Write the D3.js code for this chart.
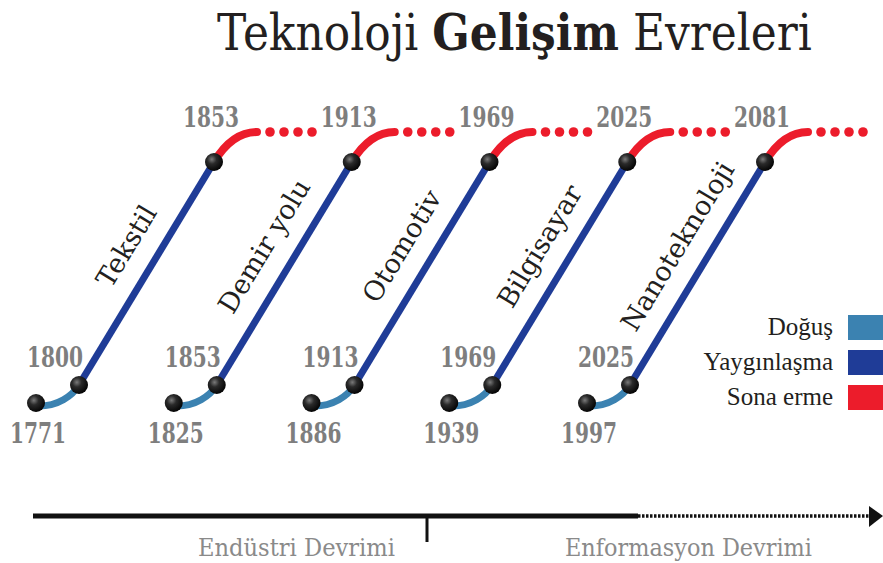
<!DOCTYPE html>
<html>
<head>
<meta charset="utf-8">
<script src="https://cdn.jsdelivr.net/npm/d3@7"></script>
<style>
    body { margin: 0; background: #fff; }
    svg { display: block; }
</style>
</head>
<body>
<svg width="883" height="563"></svg>
<script>
"use strict"

const technologies = ["Tekstil", "Demir yolu", "Otomotiv", "Bilgisayar", "Nanoteknoloji"]
const birthYears = [1771, 1825, 1886, 1939, 1997]
const spreadYears = [1800, 1853, 1913, 1969, 2025]
const declineYears = [1853, 1913, 1969, 2025, 2081]
const phases = ["Doğuş", "Yaygınlaşma", "Sona erme"]
const phaseColors = ["#3b82b1", "#1f3c97", "#ec1c2b"]
const eras = ["Endüstri Devrimi", "Enformasyon Devrimi"]
const titleParts = ["Teknoloji ", "Gelişim", " Evreleri"]

const YEAR_COLOR = "#7e7e7e"
const SERIF = "'DejaVu Serif', serif"

const svg = d3.select("svg")

// stage position along the row, then four anchors inside each stage
const x = d3.scalePoint().domain(technologies).range([36, 587])
const anchors = ["birth", "spread", "peak", "fade"]
const dx = d3.scaleOrdinal().domain(anchors).range([0, 43, 178, 221])
const y = d3.scaleOrdinal().domain(anchors).range([403, 385, 162, 132])

const stages = technologies.map((name, i) => ({
    name,
    birth: birthYears[i],
    spread: spreadYears[i],
    decline: declineYears[i],
}))

const pt = (d, a) => [x(d.name) + dx(a), y(a)]

// squeeze a group horizontally so its content is `width` wide
function fitWidth(group, left, width) {
    const w = group.node().getBBox().width
    group.attr("transform", `translate(${left},0) scale(${width / w},1)`)
}

// shaded ball used for every milestone
const grad = svg.append("defs")
    .append("radialGradient")
    .attr("id", "ball")
    .attr("cx", "38%")
    .attr("cy", "35%")
    .attr("r", "65%")
grad.append("stop").attr("offset", "0%").attr("stop-color", "#7a7a7a")
grad.append("stop").attr("offset", "40%").attr("stop-color", "#2a2a2a")
grad.append("stop").attr("offset", "100%").attr("stop-color", "#050505")

// title
const titleG = svg.append("g")
const title = titleG.append("text")
    .attr("x", 0)
    .attr("y", 50)
    .attr("font-family", SERIF)
    .attr("font-size", "50px")
    .attr("fill", "#231f20")
titleParts.forEach((t, i) => {
    title.append("tspan")
        .attr("font-weight", i === 1 ? "bold" : "normal")
        .text(t)
})
fitWidth(titleG, 217, 595)

const g = svg.selectAll(".stage")
    .data(stages)
    .join("g")
    .attr("class", "stage")

g.each(function(d) {
    const sel = d3.select(this)
    const [bx, by] = pt(d, "birth")
    const [sx, sy] = pt(d, "spread")
    const [px, py] = pt(d, "peak")
    const [fx, fy] = pt(d, "fade")
    const len = Math.hypot(px - sx, py - sy)
    const ux = (px - sx) / len
    const uy = (py - sy) / len

    // Doğuş
    sel.append("path")
        .attr("d", `M${bx},${by + 3} C${bx + 22},${by + 4} ${sx - ux * 12},${sy - uy * 12} ${sx},${sy}`)
        .attr("fill", "none")
        .attr("stroke", phaseColors[0])
        .attr("stroke-width", 7)

    // Yaygınlaşma
    sel.append("line")
        .attr("x1", sx).attr("y1", sy)
        .attr("x2", px).attr("y2", py)
        .attr("stroke", phaseColors[1])
        .attr("stroke-width", 7)

    // Sona erme
    sel.append("path")
        .attr("d", `M${px},${py} C${px + ux * 14},${py + uy * 14} ${fx - 22},${fy} ${fx},${fy}`)
        .attr("fill", "none")
        .attr("stroke", phaseColors[2])
        .attr("stroke-width", 8)
        .attr("stroke-linecap", "round")

    sel.selectAll(".trail")
        .data(d3.range(4))
        .join("circle")
        .attr("class", "trail")
        .attr("cx", (k) => fx + 13 + k * 14)
        .attr("cy", fy)
        .attr("r", 4.8)
        .attr("fill", phaseColors[2])

    sel.selectAll(".ball")
        .data([[bx, by], [sx, sy], [px, py]])
        .join("circle")
        .attr("class", "ball")
        .attr("cx", (p) => p[0])
        .attr("cy", (p) => p[1])
        .attr("r", 9)
        .attr("fill", "url(#ball)")

    const years = [
        [d.birth, bx + 2, 443],
        [d.spread, sx - 24, 367],
        [d.decline, px - 3, 127],
    ]
    years.forEach(([yr, tx, ty]) => {
        sel.append("text")
            .attr("x", tx - 28)
            .attr("y", ty)
            .attr("font-family", SERIF)
            .attr("font-weight", "bold")
            .attr("font-size", "27px")
            .attr("fill", YEAR_COLOR)
            .attr("textLength", 56)
            .attr("lengthAdjust", "spacingAndGlyphs")
            .text(yr)
    })

    // technology name runs along the diffusion line
    const t = 0.55
    const lx = sx + (px - sx) * t + uy * 22
    const ly = sy + (py - sy) * t - ux * 22
    const angle = Math.atan2(py - sy, px - sx) * 180 / Math.PI
    sel.append("text")
        .attr("transform", `translate(${lx},${ly}) rotate(${angle})`)
        .attr("text-anchor", "middle")
        .attr("font-family", SERIF)
        .attr("font-size", "27px")
        .attr("fill", "#231f20")
        .text(d.name)
})

// legend
const legend = svg.append("g")
phases.forEach((p, i) => {
    legend.append("rect")
        .attr("x", 848)
        .attr("y", 315 + i * 35)
        .attr("width", 36)
        .attr("height", 25)
        .attr("fill", phaseColors[i])
    legend.append("text")
        .attr("x", 833)
        .attr("y", 335 + i * 35)
        .attr("text-anchor", "end")
        .attr("font-family", "'Liberation Serif', 'Times New Roman', serif")
        .attr("font-size", "25px")
        .attr("fill", "#231f20")
        .text(p)
})

// era axis
const AXIS_Y = 516
const axis = svg.append("g")
axis.append("line")
    .attr("x1", 33).attr("x2", 638)
    .attr("y1", AXIS_Y).attr("y2", AXIS_Y)
    .attr("stroke", "#111")
    .attr("stroke-width", 5)
axis.append("line")
    .attr("x1", 638).attr("x2", 870)
    .attr("y1", AXIS_Y).attr("y2", AXIS_Y)
    .attr("stroke", "#111")
    .attr("stroke-width", 3.5)
    .attr("stroke-dasharray", "2.5 1.5")
axis.append("path")
    .attr("d", `M869,${AXIS_Y - 10} L883,${AXIS_Y} L869,${AXIS_Y + 11} Z`)
    .attr("fill", "#111")
axis.append("line")
    .attr("x1", 427).attr("x2", 427)
    .attr("y1", AXIS_Y).attr("y2", AXIS_Y + 26)
    .attr("stroke", "#111")
    .attr("stroke-width", 3)

const eraX = [198, 565]
const eraW = [197, 247]
eras.forEach((e, i) => {
    axis.append("text")
        .attr("x", eraX[i])
        .attr("y", 556)
        .attr("font-family", SERIF)
        .attr("font-size", "25px")
        .attr("fill", "#8a8a8a")
        .attr("textLength", eraW[i])
        .attr("lengthAdjust", "spacingAndGlyphs")
        .text(e)
})
</script>
</body>
</html>
